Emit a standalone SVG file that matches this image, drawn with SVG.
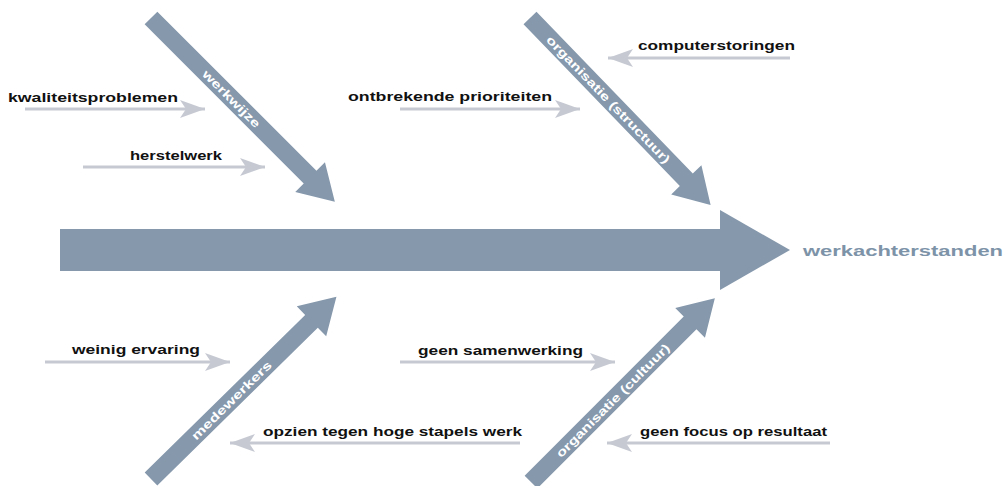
<svg xmlns="http://www.w3.org/2000/svg" width="1007" height="486" viewBox="0 0 1007 486">
<style>
.big{fill:#8598ac}
.cause{stroke:#c6c9d2;stroke-width:3;fill:none}
.lbl{font-family:"Liberation Sans",Arial,sans-serif;font-weight:bold;font-size:13px;fill:#111}
.cat{font-family:"Liberation Sans",Arial,sans-serif;font-weight:bold;font-size:12px;fill:#fff}
.eff{font-family:"Liberation Sans",Arial,sans-serif;font-weight:bold;font-size:15px;fill:#7d93a8}
</style>
<defs>
<marker id="hd" markerUnits="userSpaceOnUse" markerWidth="26" markerHeight="20" refX="25" refY="10" orient="auto">
<path d="M0,1 L25,10 L0,19 L6,10 Z" fill="#c6c9d2"/>
</marker>
<path id="diag" d="M0,-9 L225,-9 L225,-21 L260,0 L225,21 L225,9 L0,9 Z"/>
</defs>
<rect width="1007" height="486" fill="#fff"/>
<g id="spine">
<rect class="big" x="60" y="229" width="662" height="42"/>
<polygon class="big" points="720,210 790,250 720,290"/>
<text class="eff" x="803" y="256" textLength="200" lengthAdjust="spacingAndGlyphs">werkachterstanden</text>
</g>
<g id="cat-werkwijze" transform="translate(151,18) rotate(45)">
<use href="#diag" class="big"/>
<text class="cat" x="76" y="4.5" textLength="76" lengthAdjust="spacingAndGlyphs">werkwijze</text>
</g>
<g id="cat-structuur" transform="translate(530,18) rotate(46)">
<use href="#diag" class="big"/>
<text class="cat" x="27" y="4.5" textLength="172" lengthAdjust="spacingAndGlyphs">organisatie (structuur)</text>
</g>
<g id="cat-medewerker" transform="translate(151,479) rotate(-44.5)">
<use href="#diag" class="big"/>
<text class="cat" x="59" y="4.5" textLength="107" lengthAdjust="spacingAndGlyphs">medewerkers</text>
</g>
<g id="cat-cultuur" transform="translate(531,482) rotate(-45)">
<use href="#diag" class="big"/>
<text class="cat" x="38" y="4.5" textLength="155" lengthAdjust="spacingAndGlyphs">organisatie (cultuur)</text>
</g>
<g id="connectors">
<line class="cause" x1="25" y1="109" x2="205" y2="109" marker-end="url(#hd)"/>
<line class="cause" x1="83" y1="167" x2="265" y2="167" marker-end="url(#hd)"/>
<line class="cause" x1="400" y1="109" x2="580" y2="109" marker-end="url(#hd)"/>
<line class="cause" x1="790" y1="58" x2="608" y2="58" marker-end="url(#hd)"/>
<line class="cause" x1="45" y1="362" x2="230" y2="362" marker-end="url(#hd)"/>
<line class="cause" x1="400" y1="362" x2="615" y2="362" marker-end="url(#hd)"/>
<line class="cause" x1="520" y1="443" x2="230" y2="443" marker-end="url(#hd)"/>
<line class="cause" x1="830" y1="443" x2="607" y2="443" marker-end="url(#hd)"/>
</g>
<g id="n-kwaliteit"><text class="lbl" x="8" y="102" textLength="170" lengthAdjust="spacingAndGlyphs">kwaliteitsproblemen</text></g>
<g id="n-herstel"><text class="lbl" x="130" y="160" textLength="92" lengthAdjust="spacingAndGlyphs">herstelwerk</text></g>
<g id="n-prioriteiten"><text class="lbl" x="348" y="101" textLength="204" lengthAdjust="spacingAndGlyphs">ontbrekende prioriteiten</text></g>
<g id="n-storingen"><text class="lbl" x="638" y="50" textLength="157" lengthAdjust="spacingAndGlyphs">computerstoringen</text></g>
<g id="n-ervaring"><text class="lbl" x="72" y="354" textLength="128" lengthAdjust="spacingAndGlyphs">weinig ervaring</text></g>
<g id="n-samenwerking"><text class="lbl" x="418" y="355" textLength="165" lengthAdjust="spacingAndGlyphs">geen samenwerking</text></g>
<g id="n-opzien"><text class="lbl" x="263" y="436" textLength="259" lengthAdjust="spacingAndGlyphs">opzien tegen hoge stapels werk</text></g>
<g id="n-focus"><text class="lbl" x="640" y="436" textLength="187" lengthAdjust="spacingAndGlyphs">geen focus op resultaat</text></g>
</svg>
